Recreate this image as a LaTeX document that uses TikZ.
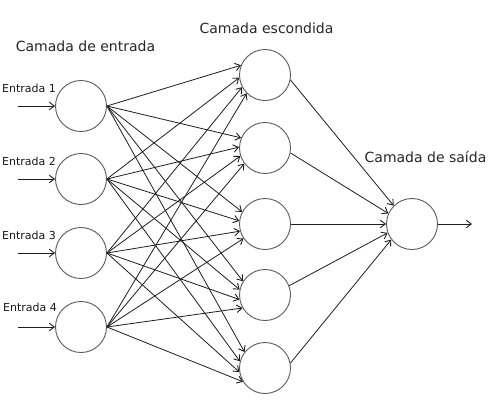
\documentclass[tikz,border=0pt]{standalone}
\usepackage{fontspec}
\setmainfont{DejaVu Sans}
\usetikzlibrary{arrows.meta}
\definecolor{circgray}{HTML}{5A5A5A}
\definecolor{edgeink}{HTML}{1E1E1E}
\tikzset{
  neuron/.style={circle,draw=circgray,line width=0.9pt,minimum size=51pt,inner sep=0pt},
  conn/.style={draw=edgeink,line width=0.8pt,-{Straight Barb[length=5pt,width=7.5pt,line width=0.9pt]}},
  layertitle/.style={font=\fontsize{14}{16}\selectfont,anchor=base,inner sep=0pt,text=black!85},
  inlabel/.style={font=\fontsize{11}{13}\selectfont,anchor=west,inner sep=0pt,text=black!90}
}
\begin{document}
\begin{tikzpicture}[x=1pt,y=-1pt]
\useasboundingbox (0,0) rectangle (500,405);
\fill[white] (0,0) rectangle (500,405);
% nodes
\node[neuron] (in1) at (81,106) {};
\node[neuron] (in2) at (81,179) {};
\node[neuron] (in3) at (81,253) {};
\node[neuron] (in4) at (81,327) {};
\node[neuron] (h1) at (265,75) {};
\node[neuron] (h2) at (265,148) {};
\node[neuron] (h3) at (265,224) {};
\node[neuron] (h4) at (265,295) {};
\node[neuron] (h5) at (265,368) {};
\node[neuron] (out) at (412,224) {};
% titles
\node[layertitle] (t1) at (85.5,51.5) {Camada de entrada};
\node[layertitle] (t2) at (266.5,33) {Camada escondida};
\node[layertitle] (t3) at (425.5,162) {Camada de saída};
% input labels
\node[inlabel] (e1) at (2,88) {Entrada 1};
\node[inlabel] (e2) at (2,161) {Entrada 2};
\node[inlabel] (e3) at (2,235) {Entrada 3};
\node[inlabel] (e4) at (3,307) {Entrada 4};
% free ends
\coordinate (s1) at (18,106);
\coordinate (s2) at (18,179);
\coordinate (s3) at (18,253);
\coordinate (s4) at (18,327);
\coordinate (o) at (472,224);
\foreach \i in {1,...,4} { \draw[conn] (s\i) -- (in\i.west); }
\draw[conn] (out.east) -- (o);
% input -> hidden
\foreach \j/\a/\b/\c/\d in {1/158/186/208/225, 2/157/178/198/217, 3/152/173/196/214, 4/148/168/190/210, 5/142/165/189/212} {
  \draw[conn] (in1.east) -- (h\j.\a);
  \draw[conn] (in2.east) -- (h\j.\b);
  \draw[conn] (in3.east) -- (h\j.\c);
  \draw[conn] (in4.east) -- (h\j.\d);
}
% hidden -> output
\foreach \j/\s/\e in {1/-11/135, 2/-11/156, 3/0/180, 4/21/200, 5/11/217} {
  \draw[conn] (h\j.\s) -- (out.\e);
}
\end{tikzpicture}
\end{document}
